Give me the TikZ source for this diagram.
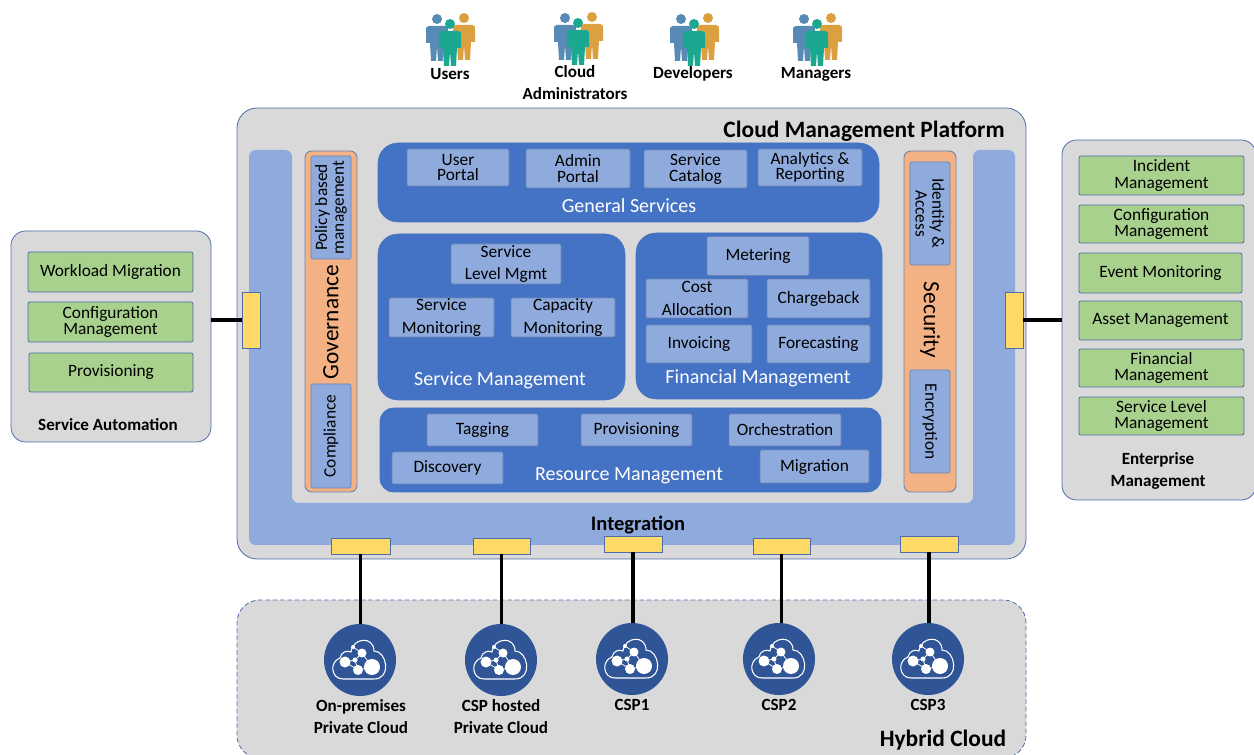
\documentclass[tikz,border=0pt]{standalone}
\usepackage{fontspec}
\setmainfont{Carlito}
\definecolor{cmpgrey}{RGB}{217,217,217}
\definecolor{cmpedge}{RGB}{78,108,170}
\definecolor{cmpsoft}{RGB}{105,132,180}
\definecolor{cmpblue}{RGB}{68,114,196}
\definecolor{cmplight}{RGB}{143,170,220}
\definecolor{cmporange}{RGB}{244,177,131}
\definecolor{cmpgreen}{RGB}{169,209,142}
\definecolor{cmpyellow}{RGB}{255,217,102}
\definecolor{cmpnavy}{RGB}{47,85,151}
\definecolor{headblue}{RGB}{88,138,182}
\definecolor{headorange}{RGB}{219,160,64}
\definecolor{headteal}{RGB}{26,168,144}
\usetikzlibrary{calc}
\tikzset{
  x=0.75pt, y=-0.75pt,
  every node/.style={font=\fontsize{13}{11.5}\selectfont, align=center, inner sep=0pt},
  size/.style 2 args={minimum width=#1*0.75pt, minimum height=#2*0.75pt},
  panel/.style={draw=cmpedge, fill=cmpgrey, rounded corners=15pt, line width=0.6pt},
  group/.style={draw=cmpblue, fill=cmpblue, rounded corners=15pt},
  strip/.style={draw=cmpsoft, fill=cmporange, rounded corners=5pt, line width=0.7pt},
  item/.style={draw=cmpsoft, fill=cmplight, line width=0.6pt, rounded corners=1pt},
  auto item/.style={draw=cmpedge, fill=cmpgreen, line width=0.6pt, rounded corners=1.5pt},
  port/.style={draw=cmpedge, fill=cmpyellow, line width=0.6pt},
  link/.style={line width=2.8pt, black},
  strong/.style={font=\fontsize{12.8}{16.5}\selectfont\bfseries},
  cloudnode/.style={circle, fill=cmpnavy, minimum size=54pt},
  whitetext/.style={text=white, font=\fontsize{15}{15}\selectfont},
  bigtitle/.style={font=\fontsize{17.6}{17.6}\selectfont\bfseries},
  striptext/.style={font=\fontsize{17.5}{17.5}\selectfont},
  person/.pic={
    \fill[#1] (0,-16) circle[radius=5];
    \fill[#1] (-8,-9) -- (8,-9) .. controls (11,-9) and (11,-7) .. (11,-5) -- (11,8) -- (7,8) -- (6,26) -- (1,26) -- (0,11) -- (-1,26) -- (-6,26) -- (-7,8) -- (-11,8) -- (-11,-5) .. controls (-11,-7) and (-11,-9) .. (-8,-9) -- cycle;
  },
  cloudicon/.pic={
    \draw[white, line width=0.8pt] (-17,19) .. controls (-29,19) and (-31,2) .. (-20,-2) .. controls (-19,-8) and (-13,-10) .. (-9,-8) .. controls (-7,-23) and (14,-24) .. (14,-9) .. controls (27,-9) and (32,19) .. (14,19) -- cycle;
    \draw[white, line width=0.6pt] (-7,-13) -- (2,-7) -- (-5,0) -- (-15,2) (-5,0) -- (-2,10) -- (-15,2) (2,-7) -- (12,7) (-2,10) -- (12,7);
    \fill[white] (12,7) circle[radius=8] (-15,2) circle[radius=5.5] (-2,10) circle[radius=5] (2,-7) circle[radius=4.5] (-5,0) circle[radius=2.5] (-7,-13) circle[radius=2];
  }
}
\begin{document}
\begin{tikzpicture}
  \useasboundingbox (0,0) rectangle (1254,755);
  \clip (0,0) rectangle (1254,755);

  % people on top
  \foreach \px/\py in {450/38, 578/37, 694/38, 817/38} {
    \pic at (\px-13,\py-3) {person=headblue};
    \pic at (\px+14,\py-4) {person=headorange};
    \pic at (\px,\py+2) {person=headteal};
  }
  \node[strong] (users) at (450,74.5) {Users};
  \node[strong] (admins) at (575,83) {Cloud\\Administrators};
  \node[strong] (devs) at (693,74) {Developers};
  \node[strong] (mgrs) at (816,74) {Managers};

  % platform
  \node[panel, size={789}{451}] (platform) at (631.5,333.5) {};
  \fill[cmplight, rounded corners=5pt] (249,150) -- (292,150) -- (292,503) -- (973,503) -- (973,150) -- (1015,150) -- (1015,545) -- (249,545) -- cycle;
  \node[bigtitle] (platformname) at (864,131.5) {Cloud Management Platform};
  \node[font=\fontsize{15.4}{15.4}\selectfont\bfseries] (integration) at (638,525) {Integration};

  % governance
  \node[strip, size={52}{341}] (governance) at (331,321.5) {};
  \node[striptext, rotate=90] (govname) at (331,322) {Governance};
  \node[item, size={103}{40}, rotate=90] (policy) at (331,207.5) {Policy based\\[1pt]management};
  \node[item, size={104}{40}, rotate=90] (compliance) at (331,436) {Compliance};

  % security
  \node[strip, size={52}{341}] (security) at (930,321.5) {};
  \node[striptext, rotate=-90] (secname) at (930,320) {Security};
  \node[item, size={103}{40}, rotate=-90] (identity) at (930,213.5) {Identity \&\\[1pt]Access};
  \node[item, size={103}{40}, rotate=-90] (encryption) at (930,421.5) {Encryption};

  % general services
  \node[group, size={501}{79}] (general) at (628.5,182.5) {};
  \node[whitetext] (generalname) at (629,206) {General Services};
  \node[item, size={102}{37}] (userportal) at (458,167.5) {User\\Portal};
  \node[item, size={104}{39}] (adminportal) at (578,168.5) {Admin\\Portal};
  \node[item, size={103}{38}] (catalog) at (695.5,169) {Service\\Catalog};
  \node[item, size={104}{37}] (analytics) at (810,167.5) {Analytics \&\\Reporting};

  % service management
  \node[group, size={247}{166}] (service) at (501.5,317) {};
  \node[whitetext] (servicename) at (500,380) {Service Management};
  \node[item, size={110}{40}] (level) at (506,264) {Service\\[5pt]Level Mgmt};
  \node[item, size={105}{39}] (monitoring) at (441.5,317.5) {Service\\[5.5pt]Monitoring};
  \node[item, size={104}{39}] (capacity) at (563,317.5) {Capacity\\[5.5pt]Monitoring};

  % financial management
  \node[group, size={246}{166}] (financial) at (759,316) {};
  \node[whitetext] (financialname) at (758,378) {Financial Management};
  \node[item, size={102}{39}] (metering) at (758,256) {Metering};
  \node[item, size={102}{39}] (cost) at (697,298.5) {Cost\\[5.5pt]Allocation};
  \node[item, size={103}{39}] (chargeback) at (818.5,298.5) {Chargeback};
  \node[item, size={106}{38}] (invoicing) at (699,344) {Invoicing};
  \node[item, size={103}{38}] (forecasting) at (818.5,344) {Forecasting};

  % resource management
  \node[group, size={501}{84}, rounded corners=10pt] (resource) at (630.5,450) {};
  \node[whitetext] (resourcename) at (629,476) {Resource Management};
  \node[item, size={111}{32}] (tagging) at (482.5,430) {Tagging};
  \node[item, size={111}{32}] (provisioning) at (636.5,430) {Provisioning};
  \node[item, size={112}{32}] (orchestration) at (785,430) {Orchestration};
  \node[item, size={111}{32}] (discovery) at (447.5,468) {Discovery};
  \node[item, size={109}{33}] (migration) at (814.5,466.5) {Migration};

  % service automation
  \node[panel, rounded corners=11pt, size={200}{211}] (automation) at (111,336.5) {};
  \node[auto item, size={165}{40}] (workload) at (110.5,272) {Workload Migration};
  \node[auto item, size={165}{40}] (autoconfig) at (110.5,322) {Configuration\\[1pt]Management};
  \node[auto item, size={164}{39}] (autoprov) at (111,372.5) {Provisioning};
  \node[font=\fontsize{12.8}{12.8}\selectfont\bfseries] (automationname) at (108,425) {Service Automation};

  % enterprise management
  \node[panel, rounded corners=11pt, size={194}{360}] (enterprise) at (1159,320) {};
  \node[auto item, size={165}{39}] (incident) at (1161.5,175.5) {Incident\\[1pt]Management};
  \node[auto item, size={165}{38}] (entconfig) at (1161.5,224) {Configuration\\[1pt]Management};
  \node[auto item, size={163}{40}] (event) at (1160.5,273) {Event Monitoring};
  \node[auto item, size={163}{39}] (asset) at (1160.5,320.5) {Asset Management};
  \node[auto item, size={165}{38}] (entfin) at (1161.5,368) {Financial\\[1pt]Management};
  \node[auto item, size={165}{38}] (entlevel) at (1161.5,416) {Service Level\\[1pt]Management};
  \node[strong] (enterprisename) at (1158,470.5) {Enterprise\\Management};

  % hybrid cloud
  \node[panel, dashed, dash pattern=on 3.5pt off 2pt, rounded corners=17pt, size={789}{158}] (hybrid) at (631.5,679) {};
  \node[bigtitle] (hybridname) at (943,740) {Hybrid Cloud};
  \foreach \cx/\cy/\cn in {360/660/ca, 501/660/cb, 632/659/cc, 779/659/cd, 928/659/ce} {
    \node[cloudnode] (\cn) at (\cx,\cy) {};
    \pic at (\cx,\cy) {cloudicon};
  }
  \node[strong] (calabel) at (361,717) {On-premises\\Private Cloud};
  \node[strong] (cblabel) at (501,717) {CSP hosted\\Private Cloud};
  \node[strong] (cclabel) at (632,705) {CSP1};
  \node[strong] (cdlabel) at (779,705) {CSP2};
  \node[strong] (celabel) at (928,705) {CSP3};

  % ports
  \node[port, size={18}{56}] (portl) at (251,320) {};
  \node[port, size={18}{56}] (portr) at (1014,320) {};
  \node[port, size={59}{16}] (pa) at (360.5,546) {};
  \node[port, size={57}{16}] (pb) at (501.5,546) {};
  \node[port, size={58}{16}] (pc) at (633,544) {};
  \node[port, size={57}{16}] (pd) at (781.5,546) {};
  \node[port, size={58}{16}] (pe) at (929,544) {};

  % connectors
  \draw[link] (portl.west) -- (portl.west -| automation.east);
  \draw[link] (portr.east) -- (portr.east -| enterprise.west);
  \draw[link] (pa.south) -- (pa.south |- ca.north);
  \draw[link] (pb.south) -- (pb.south |- cb.north);
  \draw[link] (pc.south) -- (pc.south |- cc.north);
  \draw[link] (pd.south) -- (pd.south |- cd.north);
  \draw[link] (pe.south) -- (pe.south |- ce.north);
\end{tikzpicture}
\end{document}
